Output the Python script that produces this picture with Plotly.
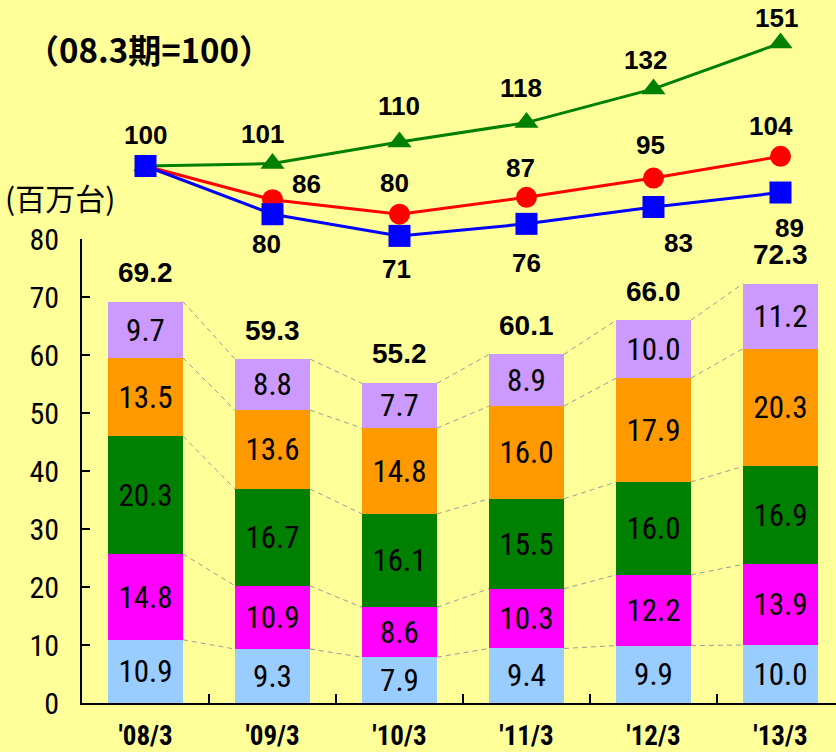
import numpy as np
import plotly.graph_objects as go

# Fiscal periods
categories = ["'08/3", "'09/3", "'10/3", "'11/3", "'12/3", "'13/3"]

# Stacked volume segments (million units), bottom to top
seg_a = [10.9, 9.3, 7.9, 9.4, 9.9, 10.0]
seg_b = [14.8, 10.9, 8.6, 10.3, 12.2, 13.9]
seg_c = [20.3, 16.7, 16.1, 15.5, 16.0, 16.9]
seg_d = [13.5, 13.6, 14.8, 16.0, 17.9, 20.3]
seg_e = [9.7, 8.8, 7.7, 8.9, 10.0, 11.2]
totals = [69.2, 59.3, 55.2, 60.1, 66.0, 72.3]

# Index series (08.3 = 100)
idx_green = [100, 101, 110, 118, 132, 151]
idx_red = [100, 86, 80, 87, 95, 104]
idx_blue = [100, 80, 71, 76, 83, 89]

BG = "#FFFF99"
SEG_COLORS = ["#99CCFF", "#FF00FF", "#008000", "#FF9900", "#CC99FF"]
NARROW = "Liberation Sans Narrow, Arial Narrow, Roboto Condensed, sans-serif"
BOLD = "Liberation Sans, Arial, Noto Sans CJK JP, sans-serif"
CJK = "Noto Sans CJK JP, sans-serif"
BAR_W = 0.59

W, H = 836, 752
M_L, M_R, M_T, M_B = 82, 0, 0, 49
plot_h = H - M_T - M_B
axis_top_px = 239  # pixel row of the 80 tick

xs = np.arange(len(categories))
segments = [seg_a, seg_b, seg_c, seg_d, seg_e]

fig = go.Figure()

for seg, col in zip(segments, SEG_COLORS):
    fig.add_trace(go.Bar(
        x=xs, y=seg, width=BAR_W, marker=dict(color=col, line=dict(width=0)),
        text=[f"{v:.1f}" for v in seg], textposition="inside",
        insidetextanchor="middle", textangle=0,
        textfont=dict(family=NARROW, size=31, color="black"),
        hoverinfo="skip", showlegend=False,
    ))

# Dashed connectors between neighbouring bar segment tops
cum = np.cumsum(np.array(segments), axis=0)
cx, cy = [], []
for level in cum:
    for i in range(len(xs) - 1):
        cx += [xs[i] + BAR_W / 2, xs[i + 1] - BAR_W / 2, None]
        cy += [level[i], level[i + 1], None]
fig.add_trace(go.Scatter(
    x=cx, y=cy, mode="lines",
    line=dict(color="#9A9A9A", width=1, dash="5px,4px"),
    hoverinfo="skip", showlegend=False,
))

# Index lines on a separate vertical scale
for vals, col, sym, size in [
    (idx_green, "#008000", "triangle-up", 21),
    (idx_red, "#FF0000", "circle", 21),
    (idx_blue, "#0000FF", "square", 22),
]:
    fig.add_trace(go.Scatter(
        x=xs, y=vals, yaxis="y2", mode="lines+markers",
        line=dict(color=col, width=3),
        marker=dict(symbol=sym, size=size, color=col, line=dict(width=0)),
        hoverinfo="skip", showlegend=False,
    ))

annotations = []
for i, t in enumerate(totals):
    annotations.append(dict(
        x=xs[i], y=t, xref="x", yref="y", text=f"{t:.1f}", showarrow=False,
        yanchor="middle", yshift=29,
        font=dict(family=BOLD, size=28, color="black", weight="bold"),
    ))

# Label offsets (pixels) around each index marker
green_dy = [31, 30, 36, 35, 29, 25]
green_dx = [0, -10, 0, -5, -8, -4]
red_dy = [0, 16, 31, 29, 33, 30]
red_dx = [0, 34, -5, -6, -3, -9]
blue_dy = [0, -30, -33, -39, -36, -35]
blue_dx = [0, -6, -3, 0, 25, 9]

idx_font = dict(family=BOLD, size=26, color="black", weight="bold")
annotations.append(dict(x=xs[0], y=idx_green[0], xref="x", yref="y2",
                        text=str(idx_green[0]), showarrow=False,
                        yshift=green_dy[0], font=idx_font))
for i in range(1, len(xs)):
    for vals, dx, dy in [(idx_green, green_dx, green_dy),
                         (idx_red, red_dx, red_dy),
                         (idx_blue, blue_dx, blue_dy)]:
        annotations.append(dict(x=xs[i], y=vals[i], xref="x", yref="y2",
                                text=str(vals[i]), showarrow=False,
                                xshift=dx[i], yshift=dy[i], font=idx_font))

annotations.append(dict(
    x=24, y=49, xref="paper", yref="paper", text="（08.3期=100）",
    showarrow=False, xanchor="left", yanchor="middle",
    font=dict(family=CJK, size=33, color="black", weight="bold"),
))
annotations.append(dict(
    x=3, y=197, xref="paper", yref="paper", text="(百万台)",
    showarrow=False, xanchor="left", yanchor="middle",
    font=dict(family=CJK, size=30, color="black"),
))

# Titles are placed by pixel (from the top-left corner) and converted to paper units
for a in annotations:
    if a["xref"] == "paper":
        a["x"] = (a["x"] - M_L) / (W - M_L - M_R)
        a["y"] = (H - a["y"] - M_B) / plot_h

# Index scale: 100 sits at row 166, 2.41 px per point
px_per_pt = 2.41
y2_top = 100 + (166 - M_T) / px_per_pt
y2_bot = 100 - (M_T + plot_h - 166) / px_per_pt

x_right = len(xs) - 0.5 - 8 / 127.2

fig.update_layout(
    width=W, height=H, margin=dict(l=M_L, r=M_R, t=M_T, b=M_B, pad=0,
                                   autoexpand=False),
    paper_bgcolor=BG, plot_bgcolor="rgba(0,0,0,0)", barmode="stack", bargap=0,
    uniformtext=dict(mode="show", minsize=31),
    annotations=annotations,
    xaxis=dict(
        range=[-0.5, x_right], tickvals=list(xs), ticktext=categories,
        ticks="", showgrid=False, zeroline=False, automargin=False,
        showline=True, linecolor="black", linewidth=2,
        tickfont=dict(family=NARROW, size=27, color="black", weight="bold"),
        ticklabelstandoff=8,
        minor=dict(tickvals=list(xs[:-1] + 0.5), ticks="inside",
                   ticklen=9, tickwidth=1.5, tickcolor="black"),
    ),
    yaxis=dict(
        domain=[0, (M_T + plot_h - axis_top_px) / plot_h], range=[0, 80],
        tickvals=list(range(0, 81, 10)), ticks="inside", ticklen=8,
        tickwidth=1.5, tickcolor="black", showgrid=False, zeroline=False,
        showline=True, linecolor="black", linewidth=2, automargin=False,
        tickfont=dict(family=NARROW, size=30, color="black"),
        ticklabelstandoff=15,
    ),
    yaxis2=dict(domain=[0, 1], anchor="x", range=[y2_bot, y2_top],
                visible=False, showgrid=False, zeroline=False,
                automargin=False),
)

fig.write_html("out.html")
